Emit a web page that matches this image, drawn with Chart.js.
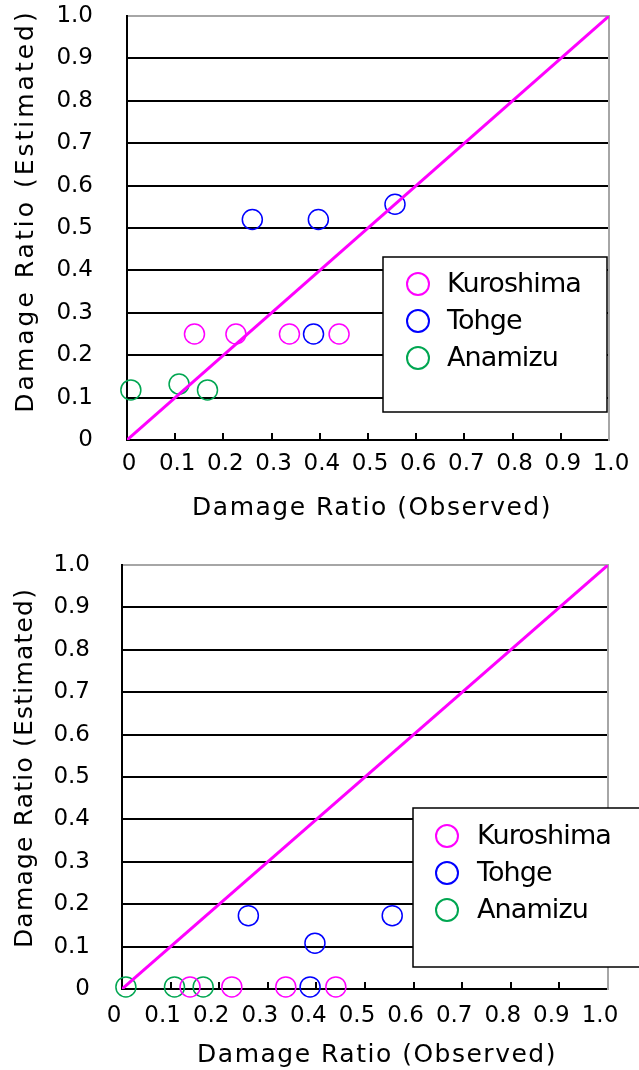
<!DOCTYPE html>
<html>
<head>
<meta charset="utf-8">
<script src="https://cdn.jsdelivr.net/npm/chart.js@4.4.1/dist/chart.umd.min.js"></script>
<style>
  html, body { margin: 0; padding: 0; background: #fff; }
  #wrap { position: relative; width: 639px; height: 1070px; overflow: hidden; }
  canvas { position: absolute; left: 0; }
  #chartA { top: 0; }
  #chartB { top: 535px; }
</style>
</head>
<body>
<div id="wrap">
  <canvas id="chartA" width="639" height="535"></canvas>
  <canvas id="chartB" width="639" height="535"></canvas>
</div>
<script>
// Observed damage ratio of the surveyed buildings in each district
const kuroshimaObserved = [0.14, 0.226, 0.337, 0.44];
const tohgeObserved     = [0.26, 0.397, 0.387, 0.556];
const anamizuObserved   = [0.008, 0.108, 0.167];

// Estimated damage ratio, upper panel
const kuroshimaEstimatedA = [0.25, 0.25, 0.25, 0.25];
const tohgeEstimatedA     = [0.52, 0.52, 0.25, 0.556];
const anamizuEstimatedA   = [0.118, 0.132, 0.118];

// Estimated damage ratio, lower panel
const kuroshimaEstimatedB = [0.005, 0.005, 0.005, 0.005];
const tohgeEstimatedB     = [0.173, 0.108, 0.005, 0.173];
const anamizuEstimatedB   = [0.005, 0.005, 0.005];

const seriesNames  = ['Kuroshima', 'Tohge', 'Anamizu'];
const seriesColors = ['#ff00ff', '#0000ff', '#00a651'];

// 1:1 reference line (estimated = observed)
const parityLine = [0, 1];

const tickValues = [0, 0.1, 0.2, 0.3, 0.4, 0.5, 0.6, 0.7, 0.8, 0.9, 1.0];
const tickLabels = ['0', '0.1', '0.2', '0.3', '0.4', '0.5', '0.6', '0.7', '0.8', '0.9', '1.0'];

const xTitle = 'Damage Ratio (Observed)';
const yTitle = 'Damage Ratio (Estimated)';

Chart.defaults.font.family = '"DejaVu Sans", sans-serif';
Chart.defaults.font.size = 23;
Chart.defaults.color = '#000';

function pairs(xs, ys) {
  return xs.map((x, i) => ({ x: x, y: ys[i] }));
}

// Wider tracking and a small nudge for the axis titles
const titleSpacing = {
  id: 'titleSpacing',
  beforeDraw(chart, args, opts) {
    Object.keys(opts.spacing || {}).forEach(id => {
      const scale = chart.scales[id];
      if (!scale || scale._spaced) return;
      const orig = scale.drawTitle;
      const px = opts.spacing[id];
      const shift = (opts.shift && opts.shift[id]) || [0, 0];
      scale.drawTitle = function () {
        const c = this.ctx;
        c.save();
        c.letterSpacing = px + 'px';
        c.translate(shift[0], shift[1]);
        orig.call(this);
        c.restore();
      };
      scale._spaced = true;
    });
  }
};

// Framed legend placed inside the plot area
const boxedLegend = {
  id: 'boxedLegend',
  afterDatasetsDraw(chart, args, o) {
    const ctx = chart.ctx;
    ctx.save();
    ctx.fillStyle = '#fff';
    ctx.strokeStyle = '#000';
    ctx.lineWidth = 1.5;
    ctx.fillRect(o.left, o.top, o.width, o.height);
    ctx.strokeRect(o.left, o.top, o.width, o.height);
    ctx.font = o.fontSize + 'px "DejaVu Sans", sans-serif';
    ctx.textAlign = 'left';
    ctx.textBaseline = 'middle';
    ctx.letterSpacing = o.letterSpacing + 'px';
    chart.data.datasets.filter(d => d.label).forEach((d, i) => {
      const y = o.top + o.firstRow + i * o.rowGap;
      ctx.beginPath();
      ctx.arc(o.left + o.markerX, y, o.markerRadius, 0, Math.PI * 2);
      ctx.strokeStyle = d.borderColor;
      ctx.lineWidth = 2;
      ctx.stroke();
      ctx.fillStyle = '#000';
      ctx.fillText(d.label, o.left + o.textX, y + 1);
    });
    ctx.restore();
  }
};

function setTicks(scale) {
  scale.ticks = tickValues.map(v => ({ value: v }));
}

// keep the plot frame where the layout puts it: no extra room for overhanging labels
function noOverhang(scale) {
  scale.paddingLeft = 0;
  scale.paddingRight = 0;
  scale.paddingTop = 0;
  scale.paddingBottom = 0;
}

function buildPanel(canvasId, estimated, g) {
  const datasets = [
    {
      type: 'line',
      data: parityLine.map(v => ({ x: v, y: v })),
      borderColor: '#ff00ff',
      borderWidth: 3,
      pointRadius: 0,
      fill: false
    }
  ];
  const observed = [kuroshimaObserved, tohgeObserved, anamizuObserved];
  seriesNames.forEach((name, i) => {
    datasets.push({
      type: 'scatter',
      label: name,
      data: pairs(observed[i], estimated[i]),
      borderColor: seriesColors[i],
      backgroundColor: 'rgba(0,0,0,0)',
      borderWidth: 1.5,
      pointRadius: 10,
      pointHoverRadius: 10,
      pointStyle: 'circle',
      clip: false
    });
  });

  return new Chart(document.getElementById(canvasId), {
    type: 'scatter',
    data: { datasets: datasets },
    plugins: [titleSpacing, boxedLegend],
    options: {
      responsive: false,
      animation: false,
      devicePixelRatio: 1,
      layout: { padding: { left: 0, right: g.padRight, top: g.padTop, bottom: 0 } },
      scales: {
        x: {
          type: 'linear',
          position: 'bottom',
          min: 0, max: 1,
          afterBuildTicks: setTicks,
          afterFit: s => { s.height = g.xAxisHeight; noOverhang(s); },
          grid: {
            display: true,
            drawOnChartArea: false,
            drawTicks: true,
            tickLength: -7,
            lineWidth: 2,
            color: c => (c.tick && (c.tick.value === 0 || c.tick.value === 1)) ? 'rgba(0,0,0,0)' : '#000'
          },
          border: { display: true, color: '#000', width: 2 },
          ticks: {
            padding: g.xTickPad,
            labelOffset: g.xLabelOffset,
            maxRotation: 0,
            autoSkip: false,
            callback: (v, i) => tickLabels[i]
          },
          title: {
            display: true,
            text: xTitle,
            font: { size: 25 },
            padding: { top: 0, bottom: g.xTitlePad }
          }
        },
        y: {
          type: 'linear',
          position: 'left',
          min: 0, max: 1,
          afterBuildTicks: setTicks,
          afterFit: s => { s.width = g.yAxisWidth; noOverhang(s); },
          grid: {
            drawTicks: false,
            lineWidth: 2,
            color: c => (c.tick && c.tick.value === 1) ? '#a6a6a6' : '#000'
          },
          border: { display: true, color: '#000', width: 2 },
          ticks: {
            padding: g.yTickPad,
            autoSkip: false,
            callback: (v, i) => tickLabels[i]
          },
          title: {
            display: true,
            text: yTitle,
            font: { size: 25 },
            padding: { top: g.yTitlePad, bottom: 0 }
          }
        },
        yRight: {
          type: 'linear',
          position: 'right',
          min: 0, max: 1,
          afterFit: s => { s.width = 0; noOverhang(s); },
          ticks: { display: false },
          grid: { display: false, drawTicks: false },
          border: { display: true, color: '#a6a6a6', width: 2 }
        }
      },
      plugins: {
        legend: { display: false },
        tooltip: { enabled: false },
        titleSpacing: {
          spacing: { x: g.xTitleSpacing, y: g.yTitleSpacing },
          shift: { x: g.xTitleShift, y: g.yTitleShift }
        },
        boxedLegend: g.legend
      }
    }
  });
}

buildPanel('chartA', [kuroshimaEstimatedA, tohgeEstimatedA, anamizuEstimatedA], {
  padRight: 30, padTop: 16, xAxisHeight: 95, yAxisWidth: 127,
  xTickPad: 17, xLabelOffset: 2, yTickPad: 34,
  xTitlePad: 12, yTitlePad: 11,
  xTitleSpacing: 1.5, yTitleSpacing: 3.0,
  xTitleShift: [4, 0], yTitleShift: [0, -17],
  legend: { left: 383, top: 257, width: 224, height: 155, firstRow: 27, rowGap: 37,
            markerX: 35, textX: 64, markerRadius: 11, fontSize: 27, letterSpacing: -0.9 }
});

buildPanel('chartB', [kuroshimaEstimatedB, tohgeEstimatedB, anamizuEstimatedB], {
  padRight: 31, padTop: 30, xAxisHeight: 81, yAxisWidth: 122,
  xTickPad: 20, xLabelOffset: -8, yTickPad: 32,
  xTitlePad: 0, yTitlePad: 10,
  xTitleSpacing: 1.5, yTitleSpacing: 1.2,
  xTitleShift: [12, 0], yTitleShift: [0, -9],
  legend: { left: 413, top: 273, width: 240, height: 159, firstRow: 28, rowGap: 37,
            markerX: 34, textX: 64, markerRadius: 11, fontSize: 27, letterSpacing: -0.9 }
});
</script>
</body>
</html>
